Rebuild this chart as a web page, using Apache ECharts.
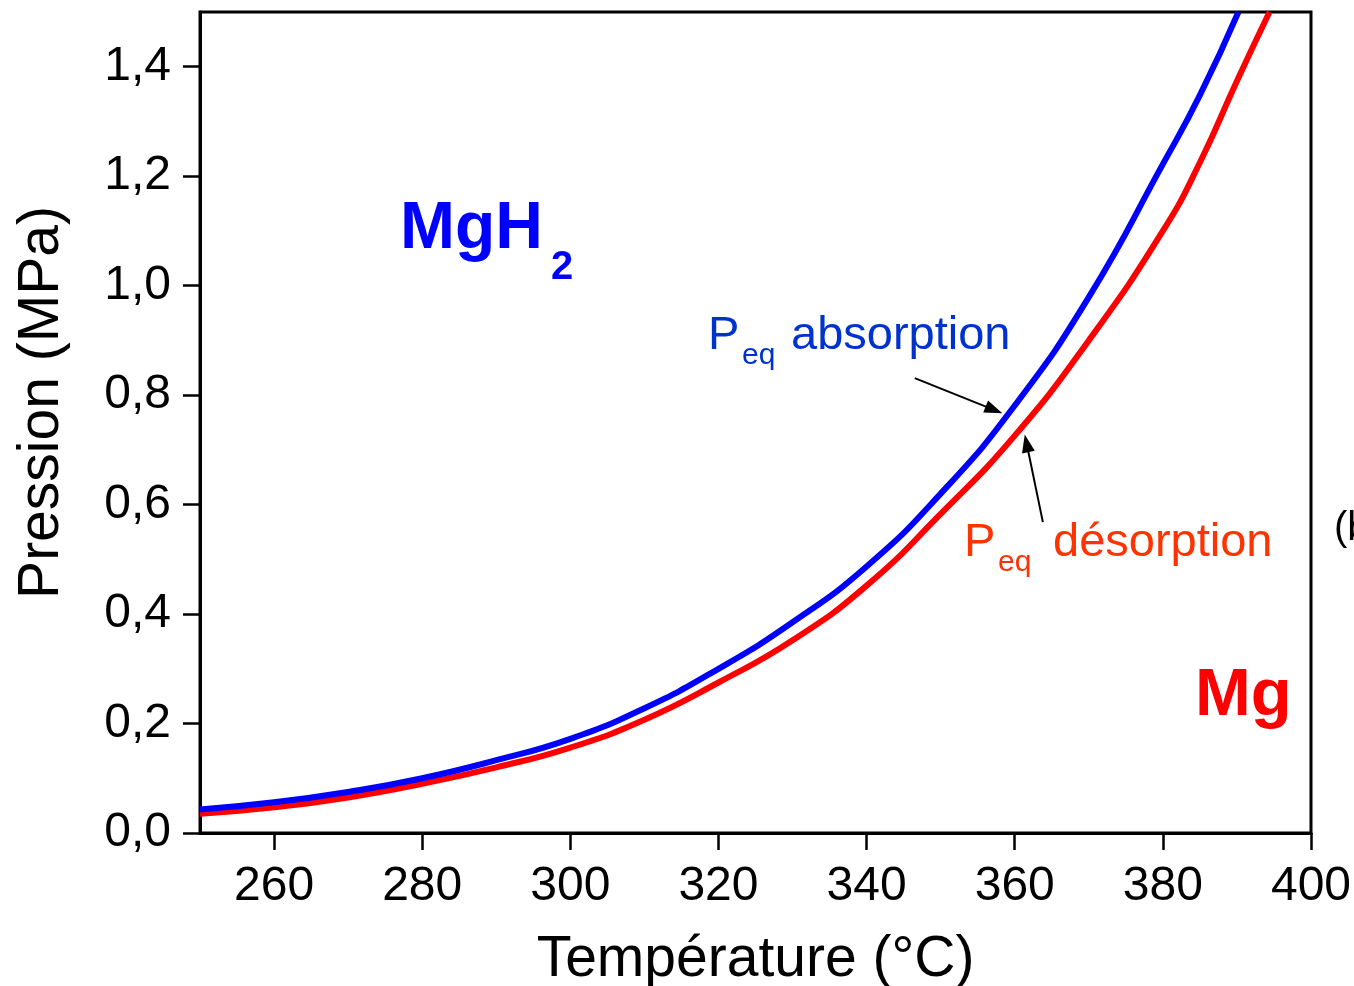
<!DOCTYPE html>
<html>
<head>
<meta charset="utf-8">
<script src="https://cdn.jsdelivr.net/npm/echarts@6/dist/echarts.min.js"></script>
<style>
html,body{margin:0;padding:0;background:#fff;}
#chart{width:1354px;height:986px;}
</style>
</head>
<body>
<div id="chart"></div>
<script>
// ---- data ----
const absTemp = [250, 260, 270, 280, 290, 300, 310, 320, 330, 340, 350, 360, 370, 380, 385, 390.2];
const absPressure = [0.043, 0.056, 0.075, 0.100, 0.133, 0.172, 0.228, 0.300, 0.385, 0.487, 0.620, 0.781, 0.979, 1.222, 1.348, 1.5];
const desTemp = [250, 260, 270, 280, 290, 300, 310, 320, 330, 340, 350, 360, 370, 380, 385, 390, 394.4];
const desPressure = [0.035, 0.047, 0.065, 0.090, 0.120, 0.156, 0.207, 0.275, 0.352, 0.452, 0.583, 0.726, 0.900, 1.100, 1.225, 1.374, 1.5];
const xTicks = [260, 280, 300, 320, 340, 360, 380, 400];
const yTicks = [0, 0.2, 0.4, 0.6, 0.8, 1.0, 1.2, 1.4];
// annotation arrows (data coordinates: [start], [tip])
const absArrow = [[346.5, 0.831], [357.2, 0.773]];
const desArrow = [[363.8, 0.568], [361.6, 0.712]];

const FONT = "'Liberation Sans', Arial, Helvetica, sans-serif";
const pairs = (xs, ys) => xs.map((x, i) => [x, ys[i]]);

const chart = echarts.init(document.getElementById('chart'), null, {renderer: 'canvas'});

const arrowMark = (pts) => ({
  silent: true, animation: false,
  symbol: ['none', 'triangle'], symbolSize: [13, 18],
  label: {show: false},
  emphasis: {disabled: true},
  lineStyle: {color: '#000', width: 2, type: 'solid'},
  data: [[{coord: pts[0]}, {coord: pts[1]}]]
});

const option = {
  animation: false,
  backgroundColor: '#ffffff',
  grid: {
    left: 200, top: 12, right: 43, bottom: 153,
    outerBoundsMode: 'none', containLabel: false,
    show: true, borderColor: '#000', borderWidth: 3, backgroundColor: 'transparent'
  },
  xAxis: {
    type: 'value', min: 250, max: 400,
    name: 'Température (°C)', nameLocation: 'middle', nameGap: 99,
    nameTextStyle: {fontFamily: FONT, fontSize: 57, color: '#000'},
    axisLine: {show: true, onZero: false, lineStyle: {color: '#000', width: 3}},
    axisTick: {show: true, inside: false, length: 17, lineStyle: {color: '#000', width: 2.5}, customValues: xTicks},
    axisLabel: {show: true, margin: 30, fontFamily: FONT, fontSize: 48, color: '#000', customValues: xTicks,
      formatter: v => String(v)},
    splitLine: {show: false}
  },
  yAxis: {
    type: 'value', min: 0, max: 1.5,
    name: 'Pression (MPa)', nameLocation: 'middle', nameGap: 129, nameRotate: 90,
    nameTextStyle: {fontFamily: FONT, fontSize: 57, color: '#000', padding: [0, 0, 0, 40]},
    axisLine: {show: true, onZero: false, lineStyle: {color: '#000', width: 3}},
    axisTick: {show: true, inside: false, length: 17, lineStyle: {color: '#000', width: 2.5}, customValues: yTicks},
    axisLabel: {show: true, margin: 29, fontFamily: FONT, fontSize: 48, color: '#000', customValues: yTicks,
      formatter: v => v.toFixed(1).replace('.', ',')},
    splitLine: {show: false}
  },
  series: [
    {
      name: 'Peq désorption', type: 'line', smooth: 0.5, showSymbol: false, clip: true,
      data: pairs(desTemp, desPressure),
      lineStyle: {color: '#ff0000', width: 6}, itemStyle: {color: '#ff0000'},
      markLine: arrowMark(desArrow)
    },
    {
      name: 'Peq absorption', type: 'line', smooth: 0.5, showSymbol: false, clip: true,
      data: pairs(absTemp, absPressure),
      lineStyle: {color: '#0000ff', width: 6}, itemStyle: {color: '#0000ff'},
      markLine: arrowMark(absArrow)
    }
  ],
  graphic: [
    {type: 'text', x: 400, y: 197, style: {text: 'MgH', font: 'bold 66px ' + FONT, fill: '#0000ff', verticalAlign: 'top'}},
    {type: 'text', x: 551, y: 248, style: {text: '2', font: 'bold 40px ' + FONT, fill: '#0000ff', verticalAlign: 'top'}},
    {type: 'text', x: 1195, y: 663, style: {text: 'Mg', font: 'bold 67px ' + FONT, fill: '#ff0000', verticalAlign: 'top'}},
    {type: 'text', x: 708, y: 313, style: {text: 'P', font: '47px ' + FONT, fill: '#0033cc', verticalAlign: 'top'}},
    {type: 'text', x: 742, y: 341, style: {text: 'eq', font: '30px ' + FONT, fill: '#0033cc', verticalAlign: 'top'}},
    {type: 'text', x: 791, y: 313, style: {text: 'absorption', font: '47px ' + FONT, fill: '#0033cc', verticalAlign: 'top'}},
    {type: 'text', x: 964, y: 520, style: {text: 'P', font: '47px ' + FONT, fill: '#ff3300', verticalAlign: 'top'}},
    {type: 'text', x: 998, y: 548, style: {text: 'eq', font: '30px ' + FONT, fill: '#ff3300', verticalAlign: 'top'}},
    {type: 'text', x: 1053, y: 520, style: {text: 'désorption', font: '47px ' + FONT, fill: '#ff3300', verticalAlign: 'top'}},
    {type: 'text', x: 1334, y: 509, style: {text: '(b)', font: '40px ' + FONT, fill: '#000', verticalAlign: 'top'}}
  ]
};
chart.setOption(option);
</script>
</body>
</html>
